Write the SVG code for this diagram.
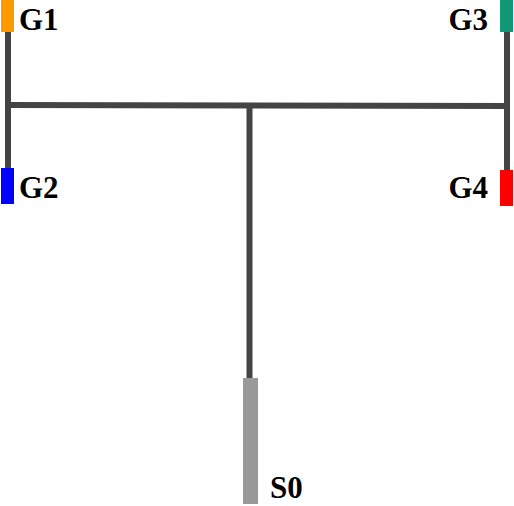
<svg xmlns="http://www.w3.org/2000/svg" width="514" height="506" viewBox="0 0 514 506">
<style>
.wire{stroke:#444444;stroke-width:6;fill:none;stroke-linecap:butt}
.lbl{font-family:"Liberation Serif","Times New Roman",serif;font-weight:bold;font-size:31px;fill:#000}
</style>
<rect width="514" height="506" fill="#ffffff"/>
<g id="connectors">
<line class="wire" x1="8" y1="31" x2="8" y2="169"/>
<line class="wire" x1="507" y1="31" x2="507" y2="171"/>
<line class="wire" x1="5" y1="105" x2="510" y2="106"/>
<line class="wire" x1="249.5" y1="105" x2="249.5" y2="379"/>
</g>
<g id="G1">
<rect x="1" y="0" width="13" height="32" fill="#ff9900"/>
<text class="lbl" x="19" y="30">G1</text>
</g>
<g id="G2">
<rect x="1" y="168" width="13" height="36" fill="#0000ff"/>
<text class="lbl" x="19" y="198">G2</text>
</g>
<g id="G3">
<rect x="500" y="0" width="13" height="32" fill="#119977"/>
<text class="lbl" x="488" y="30" text-anchor="end">G3</text>
</g>
<g id="G4">
<rect x="500" y="170" width="13" height="36" fill="#ff0000"/>
<text class="lbl" x="488" y="198" text-anchor="end">G4</text>
</g>
<g id="S0">
<rect x="243" y="378" width="15" height="126" fill="#999999"/>
<text class="lbl" x="270" y="498">S0</text>
</g>
</svg>
